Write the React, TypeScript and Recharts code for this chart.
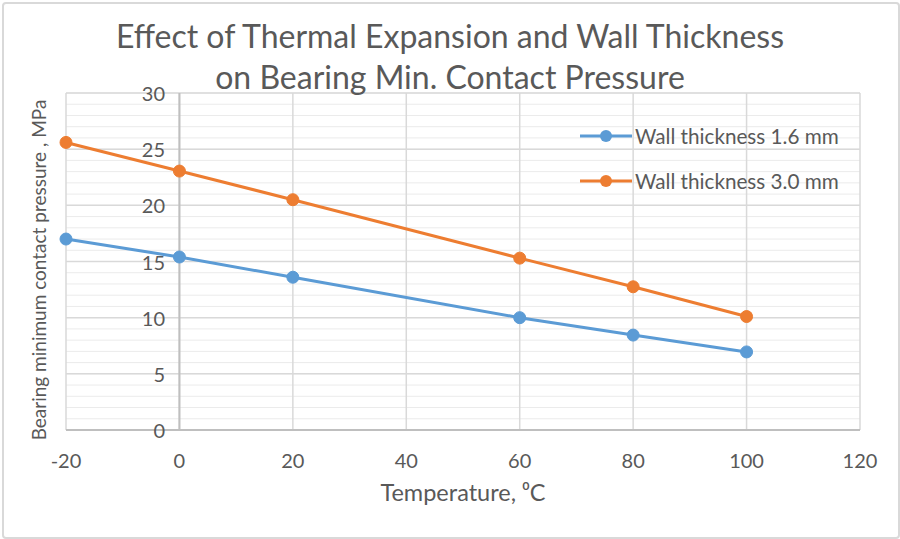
import React from "react";
import {
  CartesianGrid,
  Line,
  LineChart,
  ReferenceLine,
  XAxis,
  YAxis,
} from "recharts";

const temperatures = [-20, 0, 20, 60, 80, 100];
const wall16 = [17.0, 15.4, 13.6, 10.0, 8.45, 6.95];
const wall30 = [25.6, 23.05, 20.5, 15.3, 12.75, 10.1];

const xTicks = [-20, 0, 20, 40, 60, 80, 100, 120];
const yTicks = [0, 5, 10, 15, 20, 25, 30];
const yMinor = Array.from({ length: 31 }, (_, i) => i);

const data = temperatures.map((t, i) => ({ t, thin: wall16[i], thick: wall30[i] }));

const BLUE = "#5B9BD5";
const ORANGE = "#ED7D31";
const TEXT = "#595959";
const FONT = "Lato, 'Open Sans', sans-serif";

const legendItems = [
  { label: "Wall thickness 1.6 mm", color: BLUE },
  { label: "Wall thickness 3.0 mm", color: ORANGE },
];

function LegendBox() {
  return (
    <div style={{ fontFamily: FONT, fontSize: 20.7, color: TEXT }}>
      {legendItems.map((it) => (
        <div key={it.label} style={{ display: "flex", alignItems: "center", height: 45 }}>
          <svg width={52} height={14}>
            <line x1={0} y1={7} x2={52} y2={7} stroke={it.color} strokeWidth={3} />
            <circle cx={26} cy={7} r={6} fill={it.color} />
          </svg>
          <span style={{ marginLeft: 3 }}>{it.label}</span>
        </div>
      ))}
    </div>
  );
}

const renderYTick = (props: any) => {
  const { y, payload } = props;
  return (
    <text
      x={165}
      y={y}
      textAnchor="end"
      dominantBaseline="central"
      fill={TEXT}
      fontSize={20}
      fontFamily={FONT}
    >
      {payload.value}
    </text>
  );
};

export default function App() {
  return (
    <div
      style={{
        position: "absolute",
        left: 0,
        top: 0,
        width: 900,
        height: 539,
        background: "#fff",
        fontFamily: FONT,
      }}
    >
      <div
        style={{
          position: "absolute",
          left: 2,
          top: 2,
          width: 894,
          height: 533,
          border: "2px solid #d9d9d9",
          borderRadius: 4,
        }}
      />
      <div style={{ position: "absolute", left: 0, top: 0 }}>
        <LineChart
          width={900}
          height={539}
          data={data}
          margin={{ top: 93, right: 40, bottom: 79, left: 65 }}
        >
          <CartesianGrid
            horizontalValues={yMinor}
            vertical={false}
            stroke="#ebebeb"
            strokeWidth={1}
          />
          <CartesianGrid
            horizontalValues={yTicks}
            verticalValues={xTicks}
            stroke="#d9d9d9"
            strokeWidth={1.5}
          />
          <XAxis
            type="number"
            dataKey="t"
            domain={[-20, 120]}
            ticks={xTicks}
            height={30}
            tickLine={false}
            tickSize={0}
            tickMargin={24}
            axisLine={{ stroke: "#bfbfbf", strokeWidth: 2 }}
            tick={{ fill: TEXT, fontSize: 20, fontFamily: FONT }}
          />
          <YAxis
            type="number"
            domain={[0, 30]}
            ticks={yTicks}
            width={1}
            axisLine={false}
            tickLine={false}
            tick={renderYTick}
            interval={0}
          />
          <ReferenceLine x={0} stroke="#bfbfbf" strokeWidth={2} />
          <Line
            dataKey="thin"
            stroke={BLUE}
            strokeWidth={3}
            dot={{ r: 6, fill: BLUE, stroke: BLUE, strokeWidth: 1 }}
            isAnimationActive={false}
          />
          <Line
            dataKey="thick"
            stroke={ORANGE}
            strokeWidth={3}
            dot={{ r: 6, fill: ORANGE, stroke: ORANGE, strokeWidth: 1 }}
            isAnimationActive={false}
          />
        </LineChart>
      </div>
      <div style={{ position: "absolute", left: 580, top: 113 }}>
        <LegendBox />
      </div>
      <div
        style={{
          position: "absolute",
          left: 0,
          top: 15,
          width: 900,
          textAlign: "center",
          fontSize: 32,
          lineHeight: "41px",
          color: TEXT,
        }}
      >
        Effect of Thermal Expansion and Wall Thickness
        <br />
        on Bearing Min. Contact Pressure
      </div>
      <div
        style={{
          position: "absolute",
          left: 38,
          top: 270,
          transform: "translate(-50%, -50%) rotate(-90deg)",
          whiteSpace: "nowrap",
          fontSize: 19,
          color: TEXT,
        }}
      >
        Bearing minimum contact pressure , MPa
      </div>
      <div
        style={{
          position: "absolute",
          left: 463,
          top: 492,
          transform: "translate(-50%, -50%)",
          whiteSpace: "nowrap",
          fontSize: 23.5,
          color: TEXT,
        }}
      >
        Temperature, ⁰C
      </div>
    </div>
  );
}
